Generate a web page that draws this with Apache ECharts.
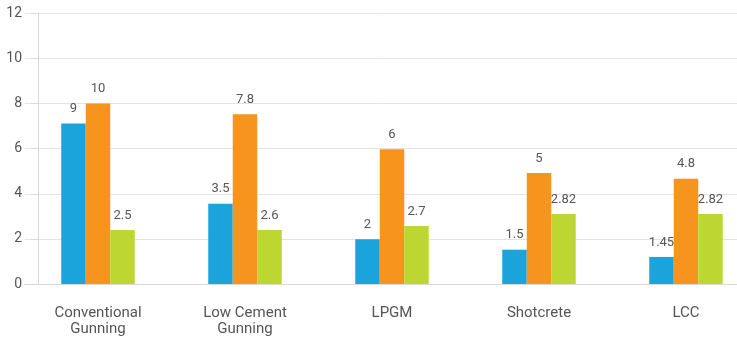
<!DOCTYPE html>
<html>
<head>
<meta charset="utf-8">
<script src="https://cdn.jsdelivr.net/npm/echarts@6/dist/echarts.min.js"></script>
<style>
  html, body { margin: 0; padding: 0; background: #fff; }
  #chart { width: 737px; height: 337px; }
</style>
</head>
<body>
<div id="chart"></div>
<script>
// bar heights as drawn, and the text printed over each bar (they differ in the source)
const categories = ['Conventional\nGunning', 'Low Cement\nGunning', 'LPGM', 'Shotcrete', 'LCC'];
const blueValues = [7.12, 3.56, 1.98, 1.52, 1.2];
const orangeValues = [8.0, 7.52, 5.97, 4.92, 4.67];
const greenValues = [2.39, 2.39, 2.57, 3.1, 3.1];
const blueLabels = ['9', '3.5', '2', '1.5', '1.45'];
const orangeLabels = ['10', '7.8', '6', '5', '4.8'];
const greenLabels = ['2.5', '2.6', '2.7', '2.82', '2.82'];
const yTicks = [0, 2, 4, 6, 8, 10, 12];

const textColor = '#555';
const fontFamily = 'Roboto';

function makeSeries(name, values, labels, color) {
    return {
        name: name,
        type: 'bar',
        data: values,
        barWidth: 24.5,
        barGap: '0%',
        itemStyle: {color: color},
        label: {
            show: true,
            position: 'top',
            distance: 8,
            color: textColor,
            fontSize: 13,
            fontFamily: fontFamily,
            formatter: (p) => labels[p.dataIndex]
        }
    };
}

let chart = echarts.init(document.getElementById('chart'));
chart.setOption({
    animation: false,
    grid: {
        left: 24.5,
        top: 13.3,
        width: 735,
        height: 270.7,
        outerBoundsMode: 'none',
        containLabel: false
    },
    xAxis: {
        type: 'category',
        data: categories,
        axisLine: {lineStyle: {color: '#d9d9d9'}},
        axisTick: {
            length: 9,
            lineStyle: {color: '#d9d9d9'},
            interval: (i) => i > 0
        },
        axisLabel: {
            color: textColor,
            fontSize: 15,
            fontFamily: fontFamily,
            margin: 21,
            lineHeight: 16
        }
    },
    yAxis: {
        type: 'value',
        min: yTicks[0],
        max: yTicks[yTicks.length - 1],
        interval: yTicks[1] - yTicks[0],
        offset: -13.5,
        axisLine: {show: true, lineStyle: {color: '#d9d9d9'}},
        axisTick: {show: true, length: 7, lineStyle: {color: '#d9d9d9'}},
        splitLine: {lineStyle: {color: '#e3e3e3'}},
        axisLabel: {
            color: textColor,
            fontSize: 14,
            fontFamily: fontFamily,
            margin: 16
        }
    },
    series: [
        makeSeries('A', blueValues, blueLabels, '#1ba3dc'),
        makeSeries('B', orangeValues, orangeLabels, '#f7941e'),
        makeSeries('C', greenValues, greenLabels, '#bed632')
    ]
});
</script>
</body>
</html>
